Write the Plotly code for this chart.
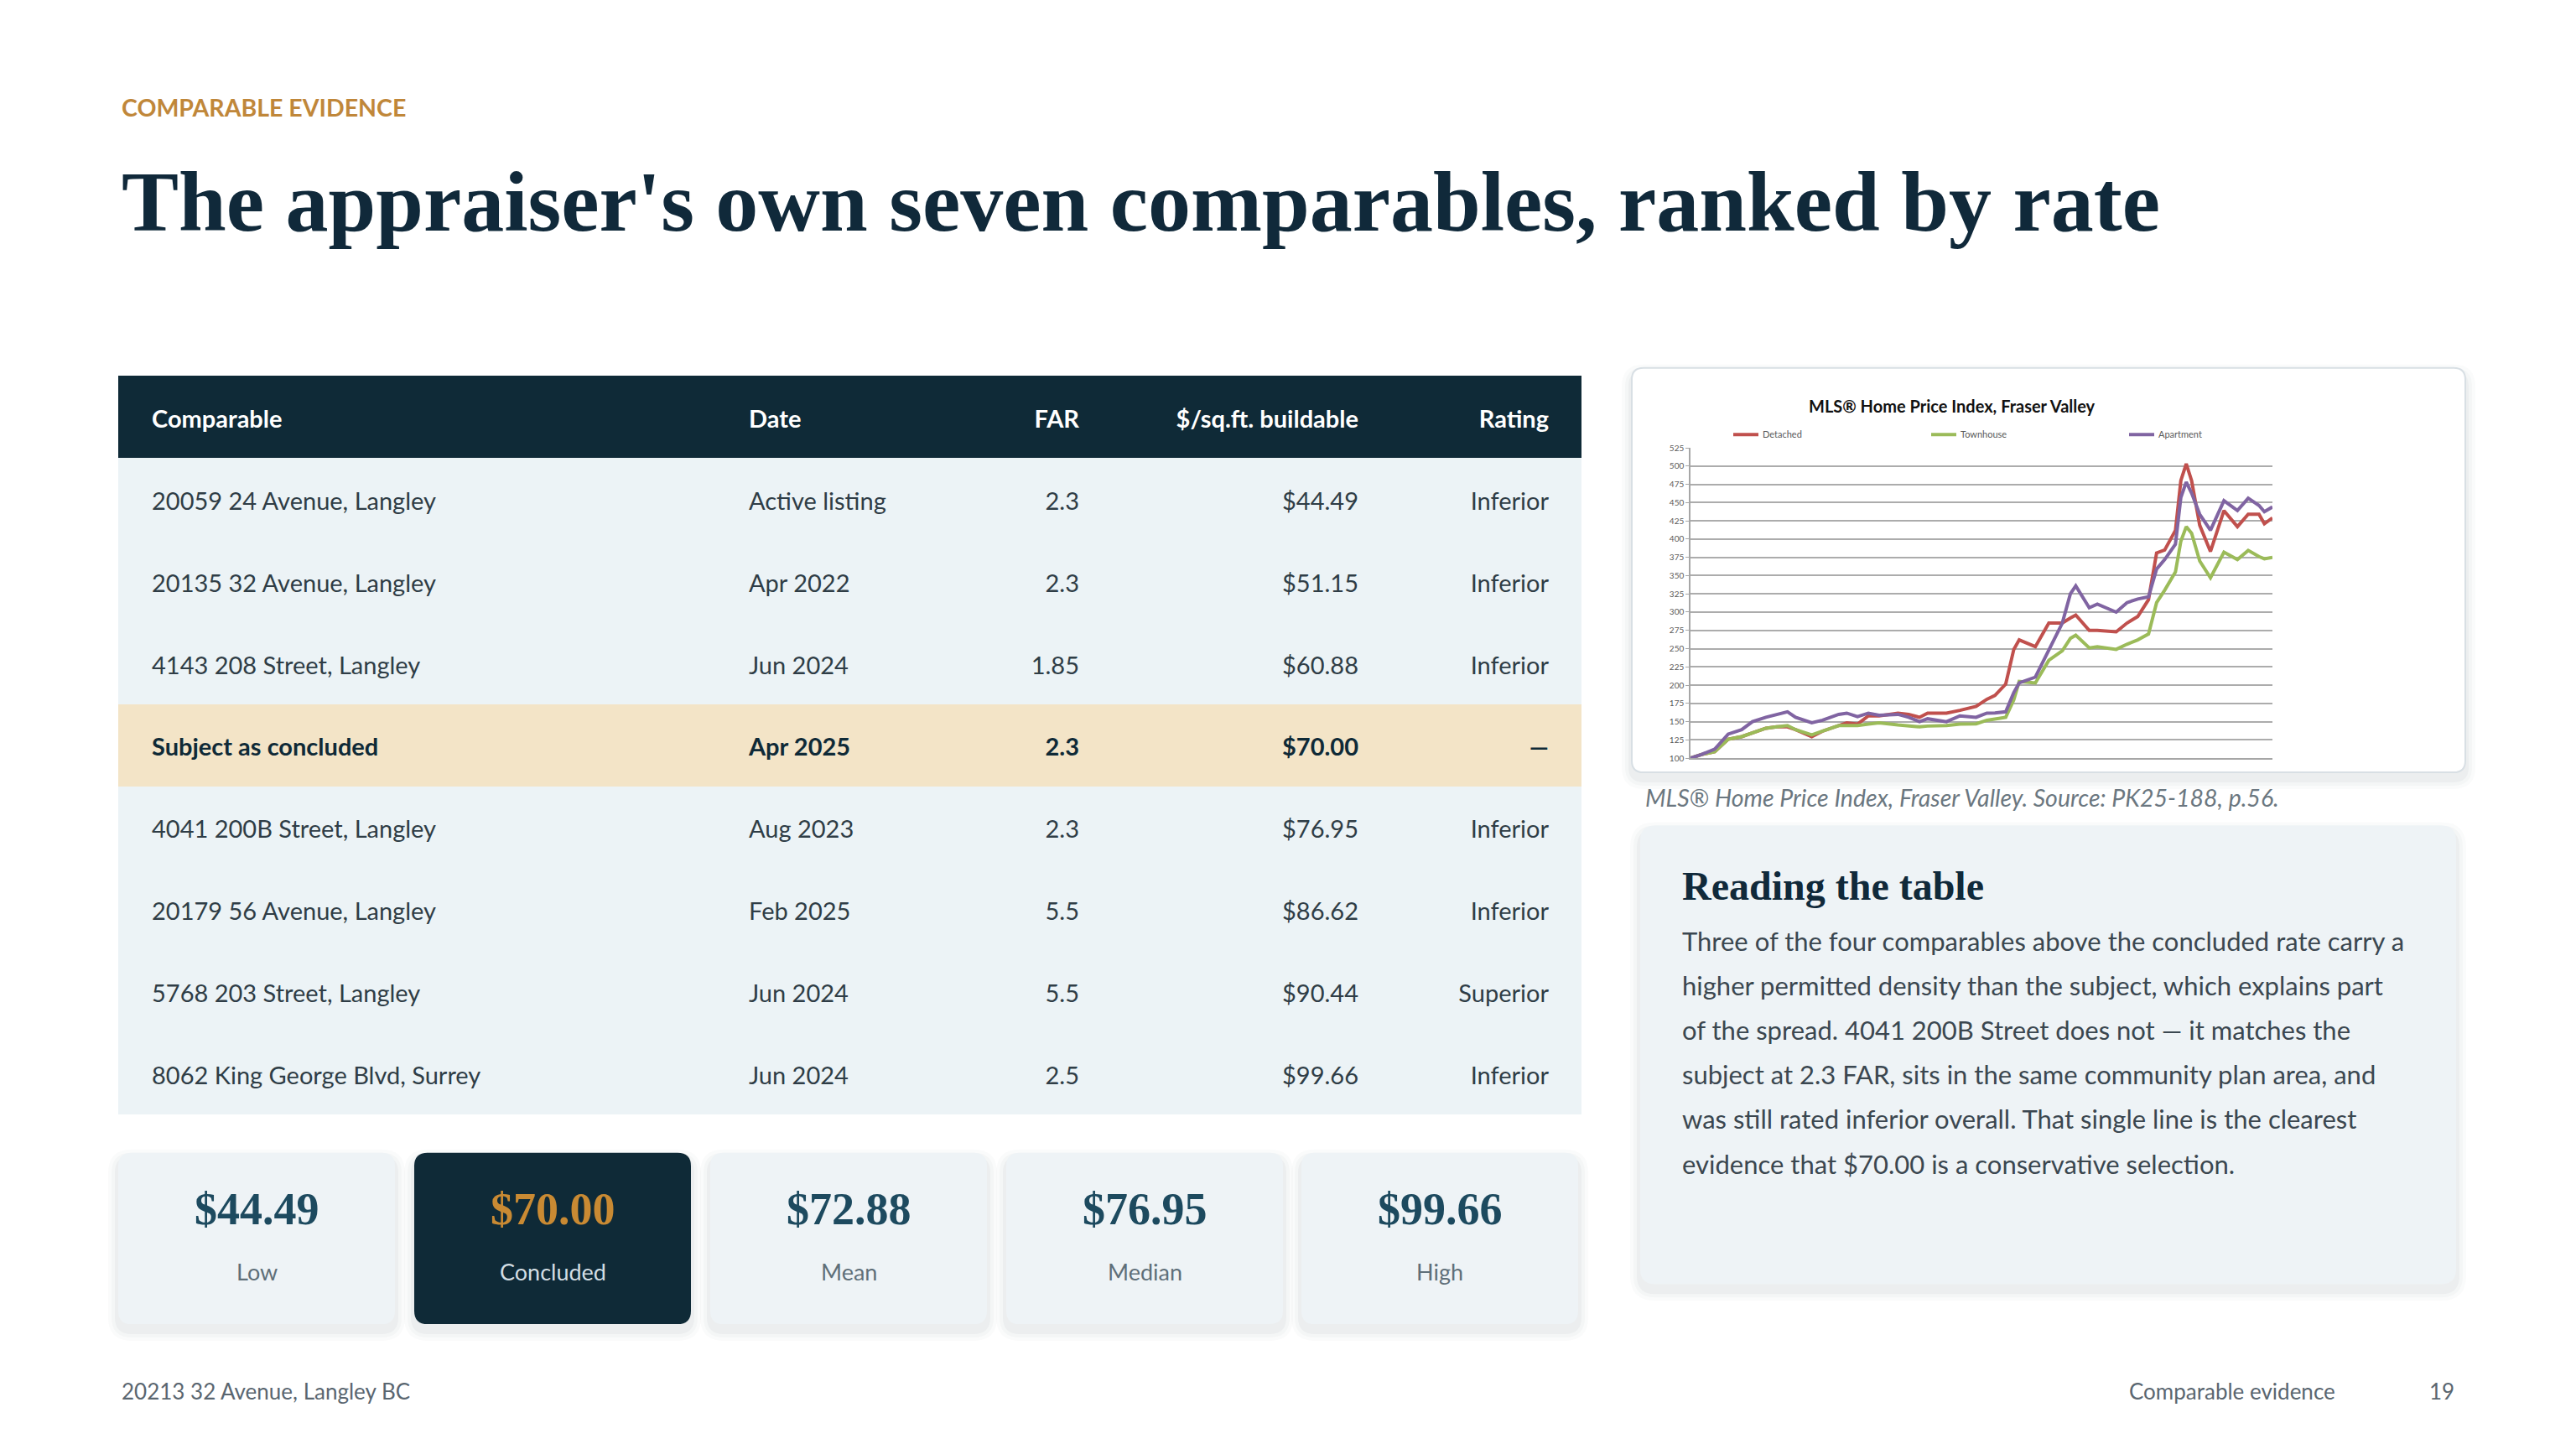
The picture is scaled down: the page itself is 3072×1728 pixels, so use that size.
import plotly.graph_objects as go

W, H = 3072, 1728

NAVY = "#0F2A37"
TITLE_NAVY = "#10293A"
GOLD = "#C0873A"
ROW_BG = "#ECF3F6"
SUBJECT_BG = "#F3E4C7"
CARD_BG = "#EEF3F6"
TEXT = "#2F3D46"
MUTED = "#5F6F79"

SANS = "Lato"
SERIF = "Liberation Serif"

# --- comparables table
COLUMNS = ["Comparable", "Date", "FAR", "$/sq.ft. buildable", "Rating"]
COMPARABLE = ["20059 24 Avenue, Langley", "20135 32 Avenue, Langley", "4143 208 Street, Langley",
              "Subject as concluded", "4041 200B Street, Langley", "20179 56 Avenue, Langley",
              "5768 203 Street, Langley", "8062 King George Blvd, Surrey"]
DATE = ["Active listing", "Apr 2022", "Jun 2024", "Apr 2025", "Aug 2023", "Feb 2025", "Jun 2024", "Jun 2024"]
FAR = ["2.3", "2.3", "1.85", "2.3", "2.3", "5.5", "5.5", "2.5"]
RATE = [44.49, 51.15, 60.88, 70.00, 76.95, 86.62, 90.44, 99.66]
RATING = ["Inferior", "Inferior", "Inferior", "—", "Inferior", "Inferior", "Superior", "Inferior"]
SUBJECT_ROW = 3

# --- summary cards
STAT_VALUES = [44.49, 70.00, 72.88, 76.95, 99.66]
STAT_LABELS = ["Low", "Concluded", "Mean", "Median", "High"]
HIGHLIGHT_STAT = 1

# --- MLS HPI mini chart (index = 100 at start)
MONTH = [0, 4, 9, 14, 19, 23, 28, 32, 36, 39, 45, 49, 55, 58, 62, 66, 70, 77, 81, 85, 88, 95, 100,
         106, 110, 113, 117, 120, 122, 128, 133, 138, 141, 143, 148, 151, 158, 162, 166, 170, 173,
         176, 180, 182, 184, 186, 189, 193, 198, 203, 207, 211, 213, 216]
DETACHED = [100, 105, 109, 126, 129.5, 135, 141, 143, 143, 139, 129.5, 137, 144.7, 148.5, 146.6, 158,
            158, 161.7, 160, 156, 161.7, 161.7, 165.5, 171, 180.7, 186, 201.5, 249, 262, 252.7, 285,
            285, 292, 296, 275, 275, 273, 285, 294, 317, 381, 385, 412, 480, 503, 480, 419, 383, 439,
            417, 434, 434, 421, 429]
TOWNHOUSE = [100, 105, 109, 126, 129.5, 135, 141, 143, 144.7, 139, 132, 137, 144.7, 144.7, 144.7,
             146.6, 148.5, 145.5, 144.7, 143, 144, 144.7, 146.6, 147, 152, 154, 156, 180, 205, 203,
             234, 247, 264, 268.5, 251, 252.6, 249, 256, 262, 270, 313, 330, 355, 397, 417, 408, 370,
             347, 382, 372, 384.5, 376, 373, 375]
APARTMENT = [100, 105, 112.5, 133, 139, 150, 156, 160, 163.6, 156, 148.5, 152, 160, 161.7, 157,
             161.7, 158.7, 160, 156, 150, 154, 150, 158, 156, 161.7, 162, 163.6, 190, 203, 211, 249,
             285, 325, 336, 306, 311, 300, 313, 318, 321, 359, 372, 393, 457, 478, 463, 434, 412,
             452.6, 439, 456, 446, 437.5, 444]
SERIES = [("Detached", DETACHED, "#C0504D"), ("Townhouse", TOWNHOUSE, "#9BBB59"),
          ("Apartment", APARTMENT, "#8064A2")]

READING_TITLE = "Reading the table"
READING_LINES = [
    "Three of the four comparables above the concluded rate carry a",
    "higher permitted density than the subject, which explains part",
    "of the spread. 4041 200B Street does not — it matches the",
    "subject at 2.3 FAR, sits in the same community plan area, and",
    "was still rated inferior overall. That single line is the clearest",
    "evidence that $70.00 is a conservative selection.",
]


def X(px):
    return px / W


def Y(py):
    return 1 - py / H


def rrect(x0, y0, x1, y1, r):
    def p(x, y):
        return f"{X(x):.6f},{Y(y):.6f}"
    return (f"M{p(x0 + r, y0)} L{p(x1 - r, y0)} Q{p(x1, y0)} {p(x1, y0 + r)} "
            f"L{p(x1, y1 - r)} Q{p(x1, y1)} {p(x1 - r, y1)} L{p(x0 + r, y1)} "
            f"Q{p(x0, y1)} {p(x0, y1 - r)} L{p(x0, y0 + r)} Q{p(x0, y0)} {p(x0 + r, y0)} Z")


shapes = []
annotations = []


def card(x0, y0, x1, y1, fill, r=14, line=None):
    # soft drop shadow under the card
    for spread, alpha in [(12, 0.018), (8, 0.025), (4, 0.035)]:
        shapes.append(dict(type="path", xref="paper", yref="paper", layer="below",
                           path=rrect(x0 - spread, y0 - spread + 8, x1 + spread, y1 + spread + 8, r + spread),
                           fillcolor=f"rgba(20,40,55,{alpha})", line=dict(width=0)))
    shapes.append(dict(type="path", xref="paper", yref="paper", layer="below",
                       path=rrect(x0, y0, x1, y1, r), fillcolor=fill,
                       line=dict(width=2 if line else 0, color=line or fill)))


def text(x, y, s, size, color, family=SANS, xanchor="left", bold=False, italic=False):
    annotations.append(dict(xref="paper", yref="paper", x=X(x), y=Y(y), text=s, showarrow=False,
                            xanchor=xanchor, yanchor="middle",
                            font=dict(size=size, color=color, family=family,
                                      weight="bold" if bold else "normal",
                                      style="italic" if italic else "normal")))


fig = go.Figure()

# ---------------- table (bars for row bands, text traces for cells)
TBL_X0, TBL_X1, TBL_Y0, TBL_Y1 = 141, 1886, 444, 1332
TBL_W = TBL_X1 - TBL_X0
rows = list(range(len(COMPARABLE) + 1))
band_colors = [NAVY] + [SUBJECT_BG if i == SUBJECT_ROW else ROW_BG for i in range(len(COMPARABLE))]
fig.add_trace(go.Bar(x=[TBL_W] * len(rows), y=rows, base=0, orientation="h", width=1,
                     marker=dict(color=band_colors, line=dict(width=0)),
                     xaxis="x2", yaxis="y2", hoverinfo="skip", showlegend=False))

rate_text = [f"${v:.2f}" for v in RATE]
col_values = [COMPARABLE, DATE, FAR, rate_text, RATING]
col_anchor = [(40, "middle right"), (752, "middle right"), (1146, "middle left"),
              (1479, "middle left"), (1706, "middle left")]
text_rows = [r + 0.06 for r in rows]  # nudge glyphs to the optical centre of each band
for head, vals, (cx, pos) in zip(COLUMNS, col_values, col_anchor):
    labels = [f"<b>{head}</b>"]
    colors = ["#FFFFFF"]
    for i, v in enumerate(vals):
        if i == SUBJECT_ROW:
            labels.append(f"<b>{v}</b>")
            colors.append(NAVY)
        else:
            labels.append(v)
            colors.append(TEXT)
    fig.add_trace(go.Scatter(x=[cx] * len(rows), y=text_rows, mode="text", text=labels,
                             textposition=pos, textfont=dict(size=29, family=SANS, color=colors),
                             xaxis="x2", yaxis="y2", hoverinfo="skip", showlegend=False))

# ---------------- summary cards
CARD_Y0, CARD_Y1 = 1378, 1584
card_x = [141, 494, 847, 1200, 1552]
CARD_WID = 330
for i, (val, lab) in enumerate(zip(STAT_VALUES, STAT_LABELS)):
    x0 = card_x[i]
    hi = i == HIGHLIGHT_STAT
    card(x0, CARD_Y0, x0 + CARD_WID, CARD_Y1, NAVY if hi else CARD_BG, r=16)
    cx = x0 + CARD_WID / 2
    text(cx, 1446, f"${val:.2f}", 54, "#C98A33" if hi else "#1D4A5F", family=SERIF,
         xanchor="center", bold=True)
    text(cx, 1521, lab, 27, "#D3DEE4" if hi else MUTED, xanchor="center")

# ---------------- mini chart card
card(1946, 435, 2940, 921, "#FFFFFF", r=14, line="#D8DFE4")
for name, vals, color in SERIES:
    fig.add_trace(go.Scatter(x=MONTH, y=vals, mode="lines", name=name,
                             line=dict(color=color, width=4), hoverinfo="skip"))
text(2328, 481, "MLS® Home Price Index, Fraser Valley", 20, "#111111", xanchor="center", bold=True)
text(1960, 951, "MLS® Home Price Index, Fraser Valley. Source: PK25-188, p.56.", 28.5, "#6B7780",
     italic=True)

# ---------------- reading card
card(1956, 985, 2929, 1536, CARD_BG, r=18)
text(2004, 1057, READING_TITLE, 48, TITLE_NAVY, family=SERIF, bold=True)
for k, line in enumerate(READING_LINES):
    text(2004, 1123 + k * 53.6, line, 31, "#3B4750")

# ---------------- headings and footer
text(143, 122, "COMPARABLE EVIDENCE", 28.5, GOLD, bold=True)
text(143, 235, "The appraiser's own seven comparables, ranked by rate", 102, TITLE_NAVY,
     family=SERIF, bold=True)
text(143, 1665, "20213 32 Avenue, Langley BC", 26, "#5A6670")
text(2787, 1665, "Comparable evidence", 26, "#5A6670", xanchor="right")
text(2929, 1665, "19", 26, "#5A6670", xanchor="right")

fig.update_layout(
    width=W, height=H, margin=dict(l=0, r=0, t=0, b=0),
    paper_bgcolor="#FFFFFF", plot_bgcolor="rgba(0,0,0,0)",
    hovermode=False, bargap=0,
    shapes=shapes, annotations=annotations,
    xaxis=dict(domain=[X(2016), X(2710)], range=[0, 216], showgrid=False, zeroline=False,
               showticklabels=False, showline=True, linecolor="#A6A6A6", linewidth=1.5,
               fixedrange=True),
    yaxis=dict(domain=[Y(904), Y(531)], range=[100, 525], tick0=100, dtick=25,
               gridcolor="#ACACAC", gridwidth=1.5, zeroline=False, showline=True,
               linecolor="#A6A6A6", linewidth=1.5, ticks="outside", ticklen=4,
               tickcolor="#A6A6A6", tickfont=dict(size=10, family=SANS, color="#595959"),
               fixedrange=True),
    xaxis2=dict(domain=[X(TBL_X0), X(TBL_X1)], range=[0, TBL_W], visible=False, fixedrange=True),
    yaxis2=dict(domain=[Y(TBL_Y1), Y(TBL_Y0)], range=[len(rows) - 0.5, -0.5], visible=False,
                fixedrange=True),
    legend=dict(orientation="h", x=X(2062), y=Y(515), xanchor="left", yanchor="middle",
                font=dict(size=11, family=SANS, color="#595959"), entrywidth=191,
                bgcolor="rgba(0,0,0,0)", itemwidth=30),
)

fig.write_html("out.html", config={"displayModeBar": False},
               post_script="document.body.style.margin='0';")
